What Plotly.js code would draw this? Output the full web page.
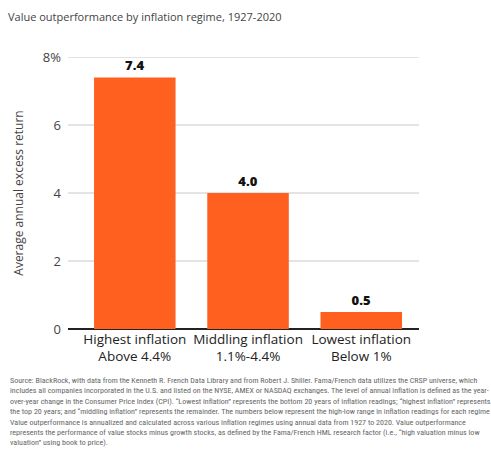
<!DOCTYPE html>
<html>
<head>
<meta charset="utf-8">
<script src="https://cdn.plot.ly/plotly-3.0.1.min.js"></script>
<style>
html,body{margin:0;padding:0;background:#fff;}
#chart{width:491px;height:454px;}
</style>
</head>
<body>
<div id="chart"></div>
<script>
const categories = ["Highest inflation<br>Above 4.4%", "Middling inflation<br>1.1%-4.4%", "Lowest inflation<br>Below 1%"];
const values = [7.4, 4.0, 0.5];
const valueLabels = ["7.4", "4.0", "0.5"];
const tickVals = [0, 2, 4, 6, 8];
const tickText = ["0", "2", "4", "6", "8%"];
const chartTitle = "Value outperformance by inflation regime, 1927-2020";
const yTitle = "Average annual excess return";
const footnoteLines = [
  "Source: BlackRock, with data from the Kenneth R. French Data Library and from Robert J. Shiller. Fama/French data utilizes the CRSP universe, which",
  "includes all companies incorporated in the U.S. and listed on the NYSE, AMEX or NASDAQ exchanges. The level of annual inflation is defined as the year-",
  "over-year change in the Consumer Price Index (CPI). \u201cLowest inflation\u201d represents the bottom 20 years of inflation readings; \u201chighest inflation\u201d represents",
  "the top 20 years; and \u201cmiddling inflation\u201d represents the remainder. The numbers below represent the high-low range in inflation readings for each regime",
  "Value outperformance is annualized and calculated across various inflation regimes using annual data from 1927 to 2020. Value outperformance",
  "represents the performance of value stocks minus growth stocks, as defined by the Fama/French HML research factor (i.e., \u201chigh valuation minus low",
  "valuation\u201d using book to price)."
];

const FONT = "Open Sans, Roboto, sans-serif";

const trace = {
  type: "bar",
  x: categories,
  y: values,
  text: valueLabels,
  textposition: "outside",
  cliponaxis: false,
  textfont: {family: "Open Sans, sans-serif", size: 13, color: "#111", weight: 800},
  marker: {color: "#FF5F1F"},
  width: 0.72,
  hoverinfo: "none"
};

// light horizontal guide lines at each y tick (drawn through the y axis scale)
const gridShapes = tickVals.filter(v => v !== 0).map(v => ({
  type: "line", xref: "paper", yref: "y",
  x0: 0, x1: 1, y0: v, y1: v,
  line: {color: "#c8c8c8", width: 1},
  layer: "below"
}));

const layout = {
  width: 491,
  height: 454,
  margin: {l: 68, r: 72, t: 57, b: 125},
  paper_bgcolor: "#fff",
  plot_bgcolor: "#fff",
  showlegend: false,
  font: {family: FONT, color: "#333"},
  title: {
    text: chartTitle,
    font: {family: FONT, size: 11, color: "#444"},
    x: 0, xref: "container", xanchor: "left",
    y: 0.962, yref: "container", yanchor: "middle",
    pad: {l: 8}
  },
  xaxis: {
    type: "category",
    range: [-0.59, 2.51],
    showgrid: false,
    zeroline: false,
    showline: false,
    ticks: "",
    tickfont: {family: FONT, size: 13.5, color: "#222"},
    fixedrange: true
  },
  yaxis: {
    range: [0, 8],
    tickvals: tickVals,
    ticktext: tickText,
    showgrid: false,
    zeroline: true,
    zerolinecolor: "#222",
    zerolinewidth: 2,
    ticks: "",
    ticklabelstandoff: 6,
    tickfont: {family: FONT, size: 13, color: "#444"},
    title: {text: yTitle, font: {family: FONT, size: 12, color: "#444"}, standoff: 16},
    fixedrange: true
  },
  shapes: gridShapes,
  annotations: [{
    text: footnoteLines.join("<br>"),
    xref: "paper", yref: "paper",
    x: -60/351, y: -45/272,
    xanchor: "left", yanchor: "top",
    align: "left",
    showarrow: false,
    font: {family: "Liberation Sans Narrow, Roboto Condensed, Open Sans, sans-serif", size: 8, color: "#666"}
  }],
  bargap: 0.28
};

Plotly.newPlot("chart", [trace], layout, {displayModeBar: false, staticPlot: true});
</script>
</body>
</html>
